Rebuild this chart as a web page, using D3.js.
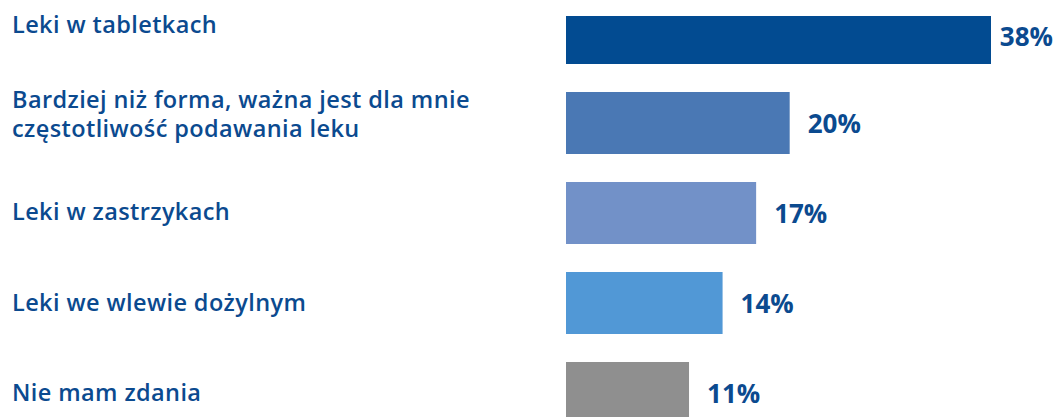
<!DOCTYPE html>
<html>
<head>
<meta charset="utf-8">
<script src="https://cdn.jsdelivr.net/npm/d3@7"></script>
<style>
  html, body { margin: 0; padding: 0; background: #ffffff; }
  svg { display: block; }
  text { font-family: "Open Sans", "Noto Sans", sans-serif; }
</style>
</head>
<body>
<svg id="chart" width="1056" height="417"></svg>
<script>
// Survey answers: preferred form of medication
const categories = [
  ["Leki w tabletkach"],
  ["Bardziej niż forma, ważna jest dla mnie", "częstotliwość podawania leku"],
  ["Leki w zastrzykach"],
  ["Leki we wlewie dożylnym"],
  ["Nie mam zdania"]
];
const values = [38, 20, 17, 14, 11];
const barColors = ["#024b91", "#4a78b4", "#7291c8", "#5198d6", "#8f8f8f"];

const W = 1056, H = 417;
const textColor = "#0b4a8f";
const svg = d3.select("#chart");

const x = d3.scaleLinear().domain([0, 38]).range([566, 991]);
// 90px per row, 62px thick bars
const y = d3.scaleBand().domain(d3.range(values.length)).range([2, 424]).paddingInner(28 / 90).paddingOuter(0);

// the first bar is drawn slimmer, trimmed from the top
const topTrim = i => (i === 0 ? 14 : 0);
// vertical nudge for the category captions
const captionShift = [-8, -9, -1, 0, 0];

svg.append("g").selectAll("rect")
  .data(values)
  .join("rect")
  .attr("x", x(0))
  .attr("y", (d, i) => y(i) + topTrim(i))
  .attr("width", d => x(d) - x(0))
  .attr("height", (d, i) => y.bandwidth() - topTrim(i))
  .attr("fill", (d, i) => barColors[i]);

// value labels, kept inside the frame on the right
const vl = svg.append("g").selectAll("text")
  .data(values)
  .join("text")
  .attr("y", (d, i) => y(i) + y.bandwidth() / 2 + (i === 0 ? 4 : 1))
  .attr("dy", "0.35em")
  .attr("fill", textColor)
  .attr("font-size", 26)
  .attr("font-weight", 700)
  .text(d => d + "%");
vl.each(function (d) {
  const w = this.getComputedTextLength();
  d3.select(this).attr("x", Math.min(x(d) + 18, W - w - 3));
});

// category captions on the left
const lineH = 29;
const cap = svg.append("g").selectAll("text")
  .data(categories)
  .join("text")
  .attr("fill", textColor)
  .attr("font-size", 23.5)
  .attr("font-weight", 600)
  .attr("letter-spacing", 0.4)
  .attr("x", 12)
  .attr("y", (d, i) => y(i) + y.bandwidth() / 2 - (d.length - 1) * lineH / 2 + captionShift[i]);
cap.selectAll("tspan")
  .data(d => d)
  .join("tspan")
  .attr("x", 12)
  .attr("dy", (d, j) => j === 0 ? "0.35em" : lineH)
  .text(d => d);
</script>
</body>
</html>
